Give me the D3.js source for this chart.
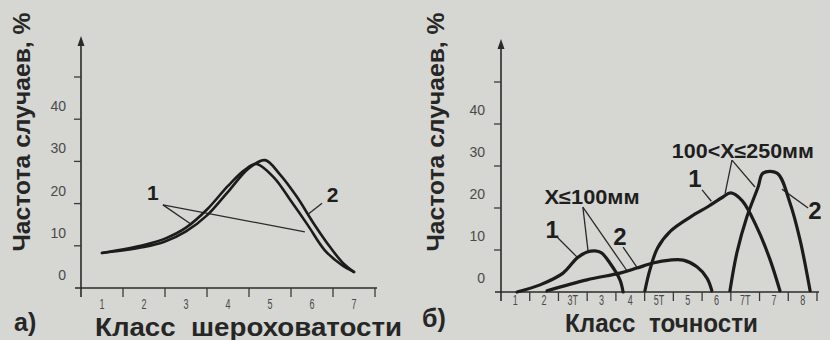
<!DOCTYPE html>
<html><head><meta charset="utf-8">
<script src="https://cdn.jsdelivr.net/npm/d3@7"></script>
<style>
html,body{margin:0;padding:0;background:#d6d6d2;}
svg{display:block;}
</style></head><body>
<svg id="c" width="830" height="340"></svg>
<script>
// ---------- data ----------
const yTickValues = [0, 10, 20, 30, 40, 50];
const yTickLabels = ["0", "10", "20", "30", "40", ""];
const classesA = ["1", "2", "3", "4", "5", "6", "7"];
const classesB = ["1", "2", "3Т", "3", "4", "5Т", "5", "6", "7Т", "7", "8"];

// panel а) — roughness class position, frequency %
const roughPos1 = [1, 2, 2.5, 3, 3.5, 4, 4.4, 4.68, 5.1, 5.5, 5.9, 6.3, 6.7, 7];
const roughVal1 = [8.3, 10.2, 11.7, 14.3, 18.6, 24.2, 28.0, 29.4, 26.1, 20.6, 14.9, 9.0, 5.5, 3.8];
const roughPos2 = [1, 2, 2.5, 3, 3.5, 4, 4.5, 4.88, 5.23, 5.64, 6.02, 6.43, 6.74, 7];
const roughVal2 = [8.3, 9.7, 11.0, 13.4, 17.2, 22.8, 28.4, 30.3, 27.0, 21.6, 15.6, 9.7, 5.9, 3.8];

// panel б) — accuracy class position, frequency %
const smallPos1 = [1.06, 1.86, 2.66, 3.15, 3.5, 3.77, 4.0, 4.29, 4.64, 4.75];
const smallVal1 = [0, 1.7, 4.5, 8.1, 9.5, 9.8, 9.3, 6.9, 2.9, 0];
const smallPos2 = [2.1, 3.49, 4.64, 5.23, 5.79, 6.38, 6.84, 7.32, 7.67, 7.84];
const smallVal2 = [0.3, 2.9, 4.5, 5.7, 6.9, 7.6, 7.6, 6.0, 3.3, 0.3];
const largePos1 = [5.51, 5.68, 5.95, 6.4, 7.1, 7.7, 8.2, 8.5, 8.9, 9.4, 9.85, 10.21];
const largeVal1 = [0.3, 5.2, 10.5, 14.5, 17.9, 20.3, 22.5, 23.6, 21.7, 15.5, 8.0, 0.3];
const largePos2 = [8.47, 8.71, 9.06, 9.45, 9.62, 10.11, 10.56, 10.91, 11.26];
const largeVal2 = [0.3, 9.3, 17.9, 25, 28.3, 28.3, 21.2, 12.4, 0.3];

// annotations (data coordinates)
const labelsA = [
  {t: "1", x: 2.21, y: 22.6, size: 21},
  {t: "2", x: 6.49, y: 22.2, size: 21}
];
const leadersA = [
  [[2.45, 19.7], [3.14, 15.0]],
  [[2.45, 19.7], [5.83, 13.3]],
  [[6.24, 20.1], [5.92, 17.6]]
];
const labelsB = [
  {t: "1", x: 2.28, y: 15.0, size: 24},
  {t: "2", x: 4.64, y: 13.2, size: 24},
  {t: "1", x: 7.25, y: 27.0, size: 24},
  {t: "2", x: 11.43, y: 19.5, size: 24},
  {t: "X≤100мм", x: 3.67, y: 22.6, size: 20, w: 95},
  {t: "100<X≤250мм", x: 8.92, y: 33.6, size: 20, w: 142}
];
const leadersB = [
  [[3.35, 20.2], [3.53, 9.8]],
  [[3.35, 20.2], [4.89, 5.0]],
  [[2.45, 13.1], [3.15, 8.3]],
  [[4.75, 10.7], [5.23, 5.9]],
  [[8.54, 31.4], [8.3, 23.4]],
  [[8.54, 31.4], [9.34, 25.0]],
  [[7.5, 24.3], [7.82, 21.6]],
  [[11.19, 20.0], [10.28, 24.5]]
];

// ---------- drawing ----------
const svg = d3.select("#c");
const ink = "#1c1c1c";
const grayText = "#4a4a4a";

function panel(cfg) {
  const g = svg.append("g");
  const x = d3.scaleLinear().domain([0.5, cfg.classes.length + 0.5]).range(cfg.xr);
  const y = d3.scaleLinear().domain([0, 50]).range(cfg.yr);
  const x0 = cfg.xr[0], yb = cfg.yr[0];

  // x axis line
  g.append("line").attr("x1", x0 - 6).attr("x2", cfg.xr[1] + 2)
    .attr("y1", yb).attr("y2", yb).attr("stroke", "#2a2a2a").attr("stroke-width", 1.6);
  // y axis line with arrow
  g.append("line").attr("x1", x0).attr("x2", x0)
    .attr("y1", yb + 9).attr("y2", cfg.arrowTop + 6).attr("stroke", "#2a2a2a").attr("stroke-width", 1.6);
  g.append("path")
    .attr("d", `M${x0},${cfg.arrowTop} L${x0 - 3.5},${cfg.arrowTop + 10} L${x0 + 3.5},${cfg.arrowTop + 10} Z`)
    .attr("fill", "#2a2a2a");

  // x ticks (band boundaries, downward)
  const xb = d3.range(1, cfg.classes.length + 1).map(i => i + 0.5);
  g.selectAll(".xt").data(xb).join("line")
    .attr("x1", d => x(d)).attr("x2", d => x(d))
    .attr("y1", yb).attr("y2", yb + 9)
    .attr("stroke", "#3a3a3a").attr("stroke-width", 1.3);
  // x labels (condensed, as in the scan)
  g.selectAll(".xl").data(cfg.classes).join("text")
    .attr("transform", (d, i) => `translate(${x(i + 1)},${cfg.xLabelY}) scale(0.6,1)`)
    .attr("text-anchor", "middle")
    .attr("font-family", "'Liberation Sans',Arial,sans-serif")
    .attr("font-size", 15).attr("fill", grayText)
    .text(d => d);

  // y ticks
  g.selectAll(".yt").data(yTickValues.slice(1)).join("line")
    .attr("x1", x0 - 7).attr("x2", x0)
    .attr("y1", d => y(d)).attr("y2", d => y(d))
    .attr("stroke", "#3a3a3a").attr("stroke-width", 1.3);
  // y labels (offset above ticks, as in the scan)
  g.selectAll(".yl").data(yTickValues).join("text")
    .attr("x", cfg.yLabelX).attr("y", d => y(d) - cfg.yLabelShift)
    .attr("text-anchor", "end").attr("dominant-baseline", "central")
    .attr("font-family", "'Liberation Sans','Arial',sans-serif")
    .attr("font-size", 14).attr("fill", grayText)
    .text((d, i) => yTickLabels[i]);

  // y title
  g.append("text")
    .attr("transform", `translate(${cfg.yTitleX},132) rotate(-90)`)
    .attr("text-anchor", "middle").attr("dominant-baseline", "central")
    .attr("font-family", "'Liberation Sans',Arial,sans-serif")
    .attr("font-weight", "bold").attr("font-size", 24).attr("fill", "#262626")
    .attr("textLength", 239).attr("lengthAdjust", "spacingAndGlyphs")
    .text("Частота случаев, %");

  // x title
  g.append("text").attr("x", cfg.titleX).attr("y", cfg.titleY)
    .attr("font-family", "'Liberation Sans',Arial,sans-serif")
    .attr("font-weight", "bold").attr("font-size", 25).attr("fill", "#262626")
    .attr("textLength", cfg.titleW).attr("lengthAdjust", "spacingAndGlyphs")
    .style("white-space", "pre")
    .text(cfg.title);
  // panel letter
  g.append("text").attr("x", cfg.letterX).attr("y", cfg.letterY)
    .attr("font-family", "'Liberation Sans',Arial,sans-serif")
    .attr("font-weight", "bold").attr("font-size", 25).attr("fill", "#262626")
    .text(cfg.letter);

  // leaders
  g.selectAll(".ld").data(cfg.leaders).join("line")
    .attr("x1", d => x(d[0][0])).attr("y1", d => y(d[0][1]))
    .attr("x2", d => x(d[1][0])).attr("y2", d => y(d[1][1]))
    .attr("stroke", "#2a2a2a").attr("stroke-width", 1.3);

  // curves
  const line = d3.line().x(d => x(d[0])).y(d => y(d[1])).curve(d3.curveCatmullRom.alpha(0.5));
  cfg.series.forEach(s => {
    const pts = s.pos.map((p, i) => [p, s.val[i]]);
    g.append("path").attr("d", line(pts)).attr("fill", "none")
      .attr("stroke", ink).attr("stroke-width", cfg.curveW)
      .attr("stroke-linecap", "round").attr("stroke-linejoin", "round");
  });

  // labels
  g.selectAll(".lb").data(cfg.labels).join("text")
    .attr("x", d => x(d.x)).attr("y", d => y(d.y))
    .attr("text-anchor", "middle").attr("dominant-baseline", "central")
    .attr("font-family", "'Liberation Sans',Arial,sans-serif")
    .attr("font-weight", "bold").attr("font-size", d => d.size).attr("fill", "#1e1e1e")
    .each(function(d) { if (d.w) d3.select(this).attr("textLength", d.w).attr("lengthAdjust", "spacingAndGlyphs"); })
    .text(d => d.t);
}

panel({
  classes: classesA, xr: [81, 375], yr: [288, 77], arrowTop: 36,
  xLabelY: 309, yLabelX: 66, yLabelShift: 13, yTitleX: 21,
  title: "Класс  шероховатости", titleX: 95, titleY: 336, titleW: 307,
  letter: "а)", letterX: 14, letterY: 331,
  series: [{pos: roughPos1, val: roughVal1}, {pos: roughPos2, val: roughVal2}],
  curveW: 2.6, leaders: leadersA, labels: labelsA
});
panel({
  classes: classesB, xr: [501, 817], yr: [292, 82], arrowTop: 39,
  xLabelY: 305, yLabelX: 485, yLabelShift: 14, yTitleX: 435,
  title: "Класс  точности", titleX: 565, titleY: 332, titleW: 193,
  letter: "б)", letterX: 422, letterY: 327,
  series: [{pos: smallPos1, val: smallVal1}, {pos: smallPos2, val: smallVal2},
           {pos: largePos1, val: largeVal1}, {pos: largePos2, val: largeVal2}],
  curveW: 3.2, leaders: leadersB, labels: labelsB
});
</script>
</body></html>
